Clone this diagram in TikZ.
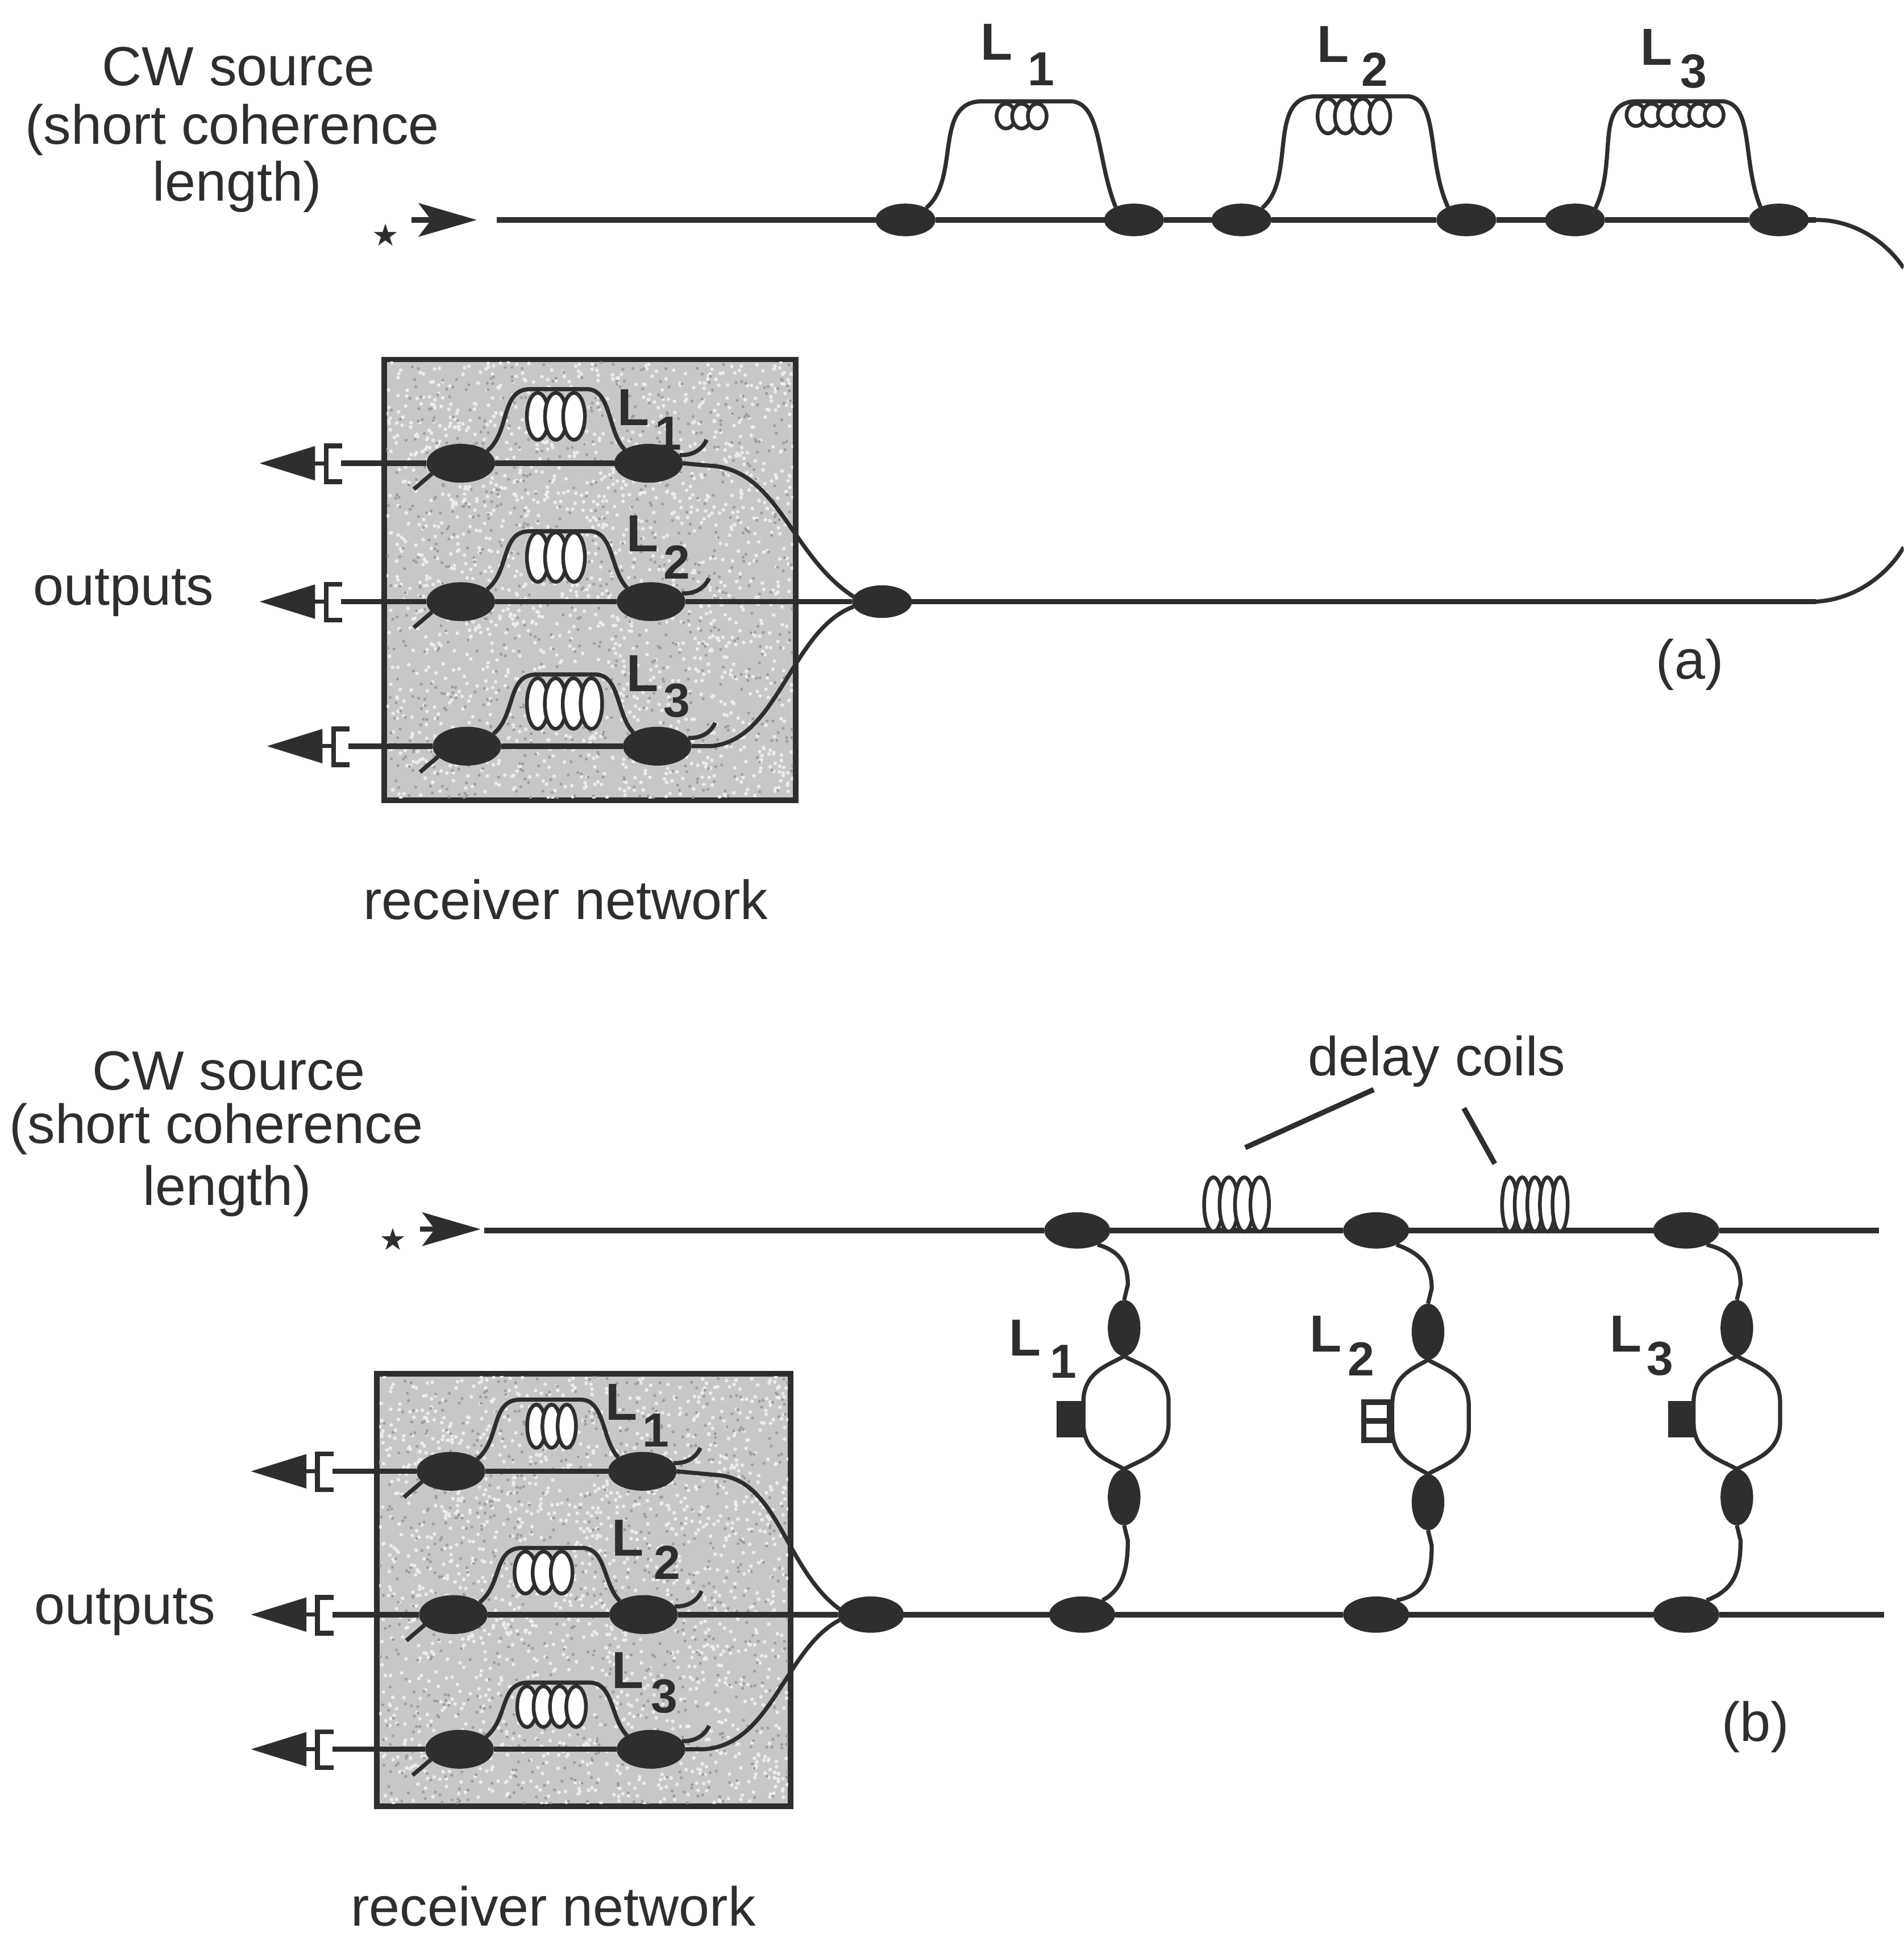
\documentclass[tikz,border=0pt]{standalone}
\usepackage{fontspec}
\setmainfont{Liberation Sans}
\newfontfamily\symfont{DejaVu Sans}
\usetikzlibrary{shapes.geometric,arrows.meta,calc}
\definecolor{ink}{gray}{0.18}
\definecolor{shade}{gray}{0.78}
\definecolor{speckl}{gray}{0.92}
\definecolor{speckd}{gray}{0.62}
\tikzset{
  fibre/.style={draw=ink,line width=0.95pt},
  mainfibre/.style={draw=ink,line width=1.25pt},
  cplh/.style={ellipse,fill=ink,draw=ink,inner sep=0pt,minimum width=0.47cm,minimum height=0.25cm},
  cplb/.style={ellipse,fill=ink,draw=ink,inner sep=0pt,minimum width=0.54cm,minimum height=0.30cm},
  cplm/.style={ellipse,fill=ink,draw=ink,inner sep=0pt,minimum width=0.52cm,minimum height=0.28cm},
  cplv/.style={ellipse,fill=ink,draw=ink,inner sep=0pt,minimum width=0.25cm,minimum height=0.44cm},
  txt/.style={text=ink,inner sep=0pt,font=\fontsize{12.7}{15}\selectfont},
  lab/.style={text=ink,inner sep=0pt,font=\fontsize{12}{15}\selectfont\bfseries},
  subl/.style={text=ink,inner sep=0pt,font=\fontsize{11}{15}\selectfont\bfseries},
  starmark/.style={text=ink,inner sep=0pt,font=\fontsize{7}{8}\selectfont\symfont},
  coilline/.style={draw=ink,fill=white,line width=0.85pt},
  panel/.style={draw=ink,fill=shade,line width=1.3pt},
  outarrow/.style={draw=ink,line width=0.9pt,-{Triangle[length=0.45cm,width=0.27cm]}},
  inarrow/.style={draw=ink,line width=1.2pt,-{Stealth[length=0.47cm,width=0.27cm,inset=0.1cm]}},
  boxcoil/.style={coilline},
}
% x0 x1 ytop ybot n
\newcommand{\coilset}[5]{%
  \foreach \i in {1,...,#5}{%
    \pgfmathsetmacro{\cxx}{#1+(\i-.5)*(#2-#1)/#5}%
    \pgfmathsetmacro{\cyy}{(#3+#4)/2}%
    \pgfmathsetmacro{\crx}{0.6*(#2-#1)/#5}%
    \pgfmathsetmacro{\cry}{(#4-#3)/2}%
    \draw[coilline] (\cxx,\cyy) ellipse [x radius=\crx,y radius=\cry];
  }}
% random grain on a panel: x0 y0 w h
\newcommand{\grain}[4]{%
  \pgfmathsetseed{17}%
  \fill[speckl] \foreach \i in {1,...,1700}{%
    ({#1+rnd*#3},{#2+rnd*#4}) circle [radius=1.5]};
  \fill[speckd] \foreach \i in {1,...,900}{%
    ({#1+rnd*#3},{#2+rnd*#4}) circle [radius=1.2]};
}
% name tipx y leftx rightx topy
\newcommand{\rxrow}[6]{%
  \coordinate (#1tip) at (#2,#3);
  \coordinate (#1br) at (#2+54,#3);
  \draw[fibre,line width=1.1pt] (#2+67,#3-14) -- ++(-13,0) -- ++(0,29) -- ++(13,0);
  \draw[outarrow] (#1br) -- (#1tip);
  \node[cplb] (#1l) at (#4,#3) {};
  \node[cplb] (#1r) at (#5,#3) {};
  \draw[mainfibre] (#2+66,#3) -- (#1l) -- (#1r);
  \draw[fibre] (#1l.25) .. controls (#4+40,#3-25) and (#4+32,#6) .. (#4+56,#6) -- (#5-50,#6)
     .. controls (#5-30,#6) and (#5-33,#3-25) .. (#1r.150);
  \draw[fibre] (#4-38,#3+21) -- (#1l.200);
  \draw[fibre] (#1r.15) .. controls (#5+34,#3-6) and (#5+43,#3-10) .. (#5+47,#3-19);
}
% name x topy boty xl xr mainT mainB
\newcommand{\mzbranch}[8]{%
  \node[cplv] (#1t) at (#2,#3) {};
  \node[cplv] (#1b) at (#2,#4) {};
  \draw[fibre] (#1t.south) .. controls (#2-12,#3+30) and (#5,#3+35) .. (#5,#3+60)
    -- (#5,#4-60) .. controls (#5,#4-35) and (#2-12,#4-30) .. (#1b.north);
  \draw[fibre] (#1t.south) .. controls (#2+12,#3+30) and (#6,#3+35) .. (#6,#3+60)
    -- (#6,#4-60) .. controls (#6,#4-35) and (#2+12,#4-30) .. (#1b.north);
  \draw[fibre] (#7.-35) .. controls (#2-2,#3-62) and (#2+3,#3-50) .. (#2+3,#3-35) -- (#1t.north);
  \draw[fibre] (#1b.south) -- (#2+3,#4+35) .. controls (#2+3,#4+60) and (#2-2,#4+75) .. (#8.35);
}
\begin{document}
\begin{tikzpicture}[x=0.01cm,y=-0.01cm]
\useasboundingbox (0,0) rectangle (1541,1568);
\clip (0,0) rectangle (1541,1568);
%%%%%% panel (a)
\node[txt] (at1) at (193,54) {CW source};
\node[txt] (at2) at (188,105) {(short coherence};
\node[txt] (at3) at (192,151) {length)};
\node[starmark] (asrc) at (312,190) {★};
\coordinate (aarrS) at (333,178);
\coordinate (aarrE) at (386,178);
\draw[inarrow] (aarrS) -- (aarrE);
\coordinate (ain) at (402,178);
\coordinate (abendT) at (1470,178);
\coordinate (abendB) at (1470,487);
\coordinate (aedgeT) at (1541,217);
\coordinate (aedgeB) at (1541,443);
\foreach \n/\x in {a1/733,a2/918,a3/1005,a4/1187,a5/1275,a6/1440}{\node[cplh] (\n) at (\x,178) {};}
\draw[mainfibre] (ain) -- (a1) -- (a2) -- (a3) -- (a4) -- (a5) -- (a6) -- (abendT);
\draw[fibre] (abendT) .. controls (1505,178) and (1530,200) .. (aedgeT);
\draw[fibre] (abendB) .. controls (1505,485) and (1530,462) .. (aedgeB);
% delay loops
\draw[fibre] (a1.30) .. controls (778,145) and (755,82) .. (795,82) -- (868,82)
  .. controls (892,85) and (888,130) .. (a2.145);
\draw[fibre] (a3.30) .. controls (1050,145) and (1025,78) .. (1065,78) -- (1140,78)
  .. controls (1165,80) and (1155,130) .. (a4.145);
\draw[fibre] (a5.30) .. controls (1310,130) and (1290,82) .. (1325,82) -- (1395,82)
  .. controls (1420,85) and (1410,130) .. (a6.145);
\coilset{808}{846}{84}{104}{3}
\coilset{1068}{1124}{80}{108}{4}
\coilset{1318}{1394}{84}{102}{6}
\node[lab] (aL1) at (807,34) {L};
\node[subl] (aS1) at (843,56) {1};
\node[lab] (aL2) at (1079,36) {L};
\node[subl] (aS2) at (1113,56) {2};
\node[lab] (aL3) at (1341,38) {L};
\node[subl] (aS3) at (1371,58) {3};
% receiver a
\draw[panel] (311,291) rectangle (644,648);
\begin{scope}
\clip (313,293) rectangle (642,646);
\grain{313}{293}{329}{353}
\end{scope}
\node[cplh] (ac) at (714,487) {};
\rxrow{ar1}{210}{375}{373}{525}{315}
\coilset{428}{472}{318}{356}{3}
\rxrow{ar2}{210}{487}{373}{527}{430}
\coilset{428}{472}{431}{471}{3}
\rxrow{ar3}{216}{604}{378}{532}{546}
\coilset{428}{486}{549}{590}{4}
\draw[fibre] (ar1r.east) -- (575,377) .. controls (630,380) and (640,450) .. (ac.170);
\draw[fibre] (ar3r.east) -- (575,604) .. controls (630,600) and (640,510) .. (ac.190);
\draw[mainfibre] (ar2r) -- (ac) -- (abendB);
\node[lab] (ab1) at (513,330) {L};
\node[subl] (ab2) at (541,351) {1};
\node[lab] (ab3) at (520,432) {L};
\node[subl] (ab4) at (548,455) {2};
\node[lab] (ab5) at (520,545) {L};
\node[subl] (ab6) at (548,567) {3};
\node[txt] (aout) at (100,480) {outputs};
\node[txt] (arn) at (458,728) {receiver network};
\node[txt] (atag) at (1368,538) {(a)};
%%%%%% panel (b)
\node[txt] (bt1) at (185,867) {CW source};
\node[txt] (bt2) at (175,914) {(short coherence};
\node[txt] (bt3) at (184,964) {length)};
\node[starmark] (bsrc) at (318,1003) {★};
\coordinate (barrS) at (340,995);
\coordinate (barrE) at (389,995);
\draw[inarrow] (barrS) -- (barrE);
\coordinate (bin) at (392,996);
\coordinate (bendT) at (1521,996);
\coordinate (bendB) at (1525,1307);
\node[cplm] (t1) at (872,996) {};
\node[cplm] (t2) at (1114,996) {};
\node[cplm] (t3) at (1365,996) {};
\node[cplm] (u1) at (876,1307) {};
\node[cplm] (u2) at (1114,1307) {};
\node[cplm] (u3) at (1365,1307) {};
\node[cplm] (bc) at (705,1307) {};
\draw[mainfibre] (bin) -- (t1) -- (t2) -- (t3) -- (bendT);
\coilset{976}{1026}{953}{997}{4}
\coilset{1217}{1268}{953}{997}{5}
\mzbranch{m1}{910}{1075}{1212}{877}{946}{t1}{u1}
\mzbranch{m2}{1156}{1078}{1216}{1127}{1189}{t2}{u2}
\mzbranch{m3}{1406}{1075}{1212}{1371}{1441}{t3}{u3}
% small coils on the loops
\node[draw=ink,fill=ink,inner sep=0pt,minimum width=0.2cm,minimum height=0.28cm] (k1) at (866,1149) {};
\node[draw=ink,fill=ink,inner sep=0pt,minimum width=0.2cm,minimum height=0.28cm] (k3) at (1361,1149) {};
\draw[coilline,line width=1.3pt] (1104,1135) rectangle (1125,1166);
\draw[coilline,line width=1.3pt] (1104,1150) -- (1125,1150);
\node[txt] (dc) at (1163,859) {delay coils};
\coordinate (dc1a) at (1112,882);
\coordinate (dc1b) at (1008,929);
\coordinate (dc2a) at (1185,897);
\coordinate (dc2b) at (1210,942);
\draw[fibre,line width=1.2pt] (dc1a) -- (dc1b);
\draw[fibre,line width=1.2pt] (dc2a) -- (dc2b);
\node[lab] (bL1) at (830,1083) {L};
\node[subl] (bS1) at (861,1102) {1};
\node[lab] (bL2) at (1073,1080) {L};
\node[subl] (bS2) at (1102,1100) {2};
\node[lab] (bL3) at (1316,1080) {L};
\node[subl] (bS3) at (1344,1100) {3};
% receiver b
\draw[panel] (305,1112) rectangle (640,1462);
\begin{scope}
\clip (307,1114) rectangle (638,1460);
\grain{307}{1114}{331}{346}
\end{scope}
\rxrow{br1}{203}{1191}{365}{520}{1133}
\coilset{428}{465}{1137}{1172}{3}
\rxrow{br2}{203}{1307}{367}{521}{1253}
\coilset{418}{462}{1256}{1290}{3}
\rxrow{br3}{203}{1416}{372}{527}{1362}
\coilset{420}{473}{1365}{1398}{4}
\draw[fibre] (br1r.east) -- (580,1194) .. controls (630,1197) and (635,1270) .. (bc.170);
\draw[fibre] (br3r.east) -- (570,1416) .. controls (625,1412) and (635,1335) .. (bc.190);
\draw[mainfibre] (br2r) -- (bc) -- (u1) -- (u2) -- (u3) -- (bendB);
\node[lab] (bb1) at (503,1135) {L};
\node[subl] (bb2) at (531,1158) {1};
\node[lab] (bb3) at (508,1245) {L};
\node[subl] (bb4) at (540,1265) {2};
\node[lab] (bb5) at (508,1352) {L};
\node[subl] (bb6) at (538,1373) {3};
\node[txt] (bout) at (101,1305) {outputs};
\node[txt] (brn) at (448,1543) {receiver network};
\node[txt] (btag) at (1421,1398) {(b)};
\end{tikzpicture}
\end{document}
